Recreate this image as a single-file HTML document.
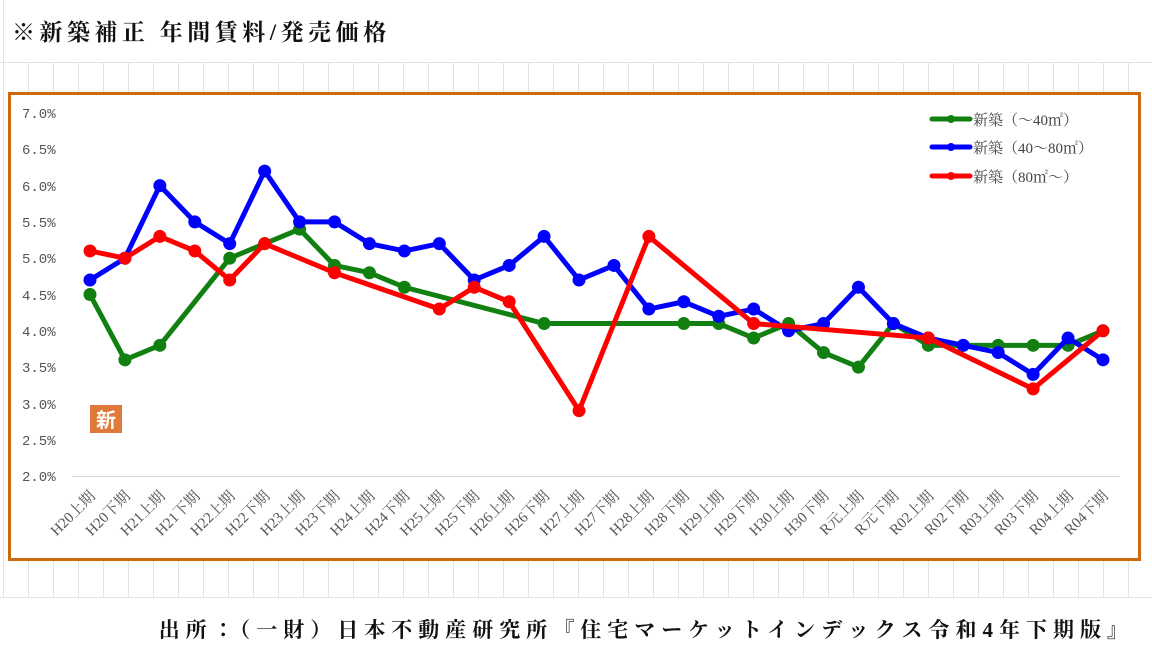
<!DOCTYPE html>
<html><head><meta charset="utf-8"><style>
body{margin:0;width:1152px;height:648px;overflow:hidden;background:#fff;font-family:"Liberation Serif","Noto Serif CJK SC",serif;}
</style></head><body>
<svg width="1152" height="648" xmlns="http://www.w3.org/2000/svg" style="position:absolute;left:0;top:0">
<defs>
<pattern id="g" x="3" y="0" width="25" height="648" patternUnits="userSpaceOnUse"><line x1="0.5" y1="0" x2="0.5" y2="648" stroke="#e2e2e2"/></pattern>
</defs>
<rect x="0" y="62" width="1152" height="586" fill="url(#g)"/>
<rect x="0" y="0" width="1152" height="62" fill="#fff"/>
<line x1="0" y1="62.5" x2="1152" y2="62.5" stroke="#e2e2e2"/>
<line x1="3.5" y1="0" x2="3.5" y2="62" stroke="#e2e2e2"/>
<line x1="0" y1="597.5" x2="1152" y2="597.5" stroke="#e2e2e2"/>
<rect x="0" y="598" width="1152" height="50" fill="#fff"/>
<text x="12" y="40" font-size="23" font-weight="bold" fill="#111" letter-spacing="4.5" font-family="Liberation Serif,Noto Serif CJK SC,serif">※新築補正 年間賃料/発売価格</text>
<rect x="9.5" y="93.5" width="1130" height="466" fill="#fff" stroke="#cc6a10" stroke-width="3"/>
<g font-family="Liberation Mono,monospace" font-size="14" fill="#555">
<text x="22" y="118">7.0%</text><text x="22" y="154">6.5%</text><text x="22" y="191">6.0%</text><text x="22" y="227">5.5%</text><text x="22" y="263">5.0%</text><text x="22" y="300">4.5%</text><text x="22" y="336">4.0%</text><text x="22" y="372">3.5%</text><text x="22" y="409">3.0%</text><text x="22" y="445">2.5%</text><text x="22" y="481">2.0%</text>
</g>
<line x1="72" y1="476.5" x2="1120" y2="476.5" stroke="#d9d9d9"/>
<rect x="90" y="405" width="32" height="28" fill="#e07a3a"/>
<text x="106" y="427" font-size="20" fill="#fff" text-anchor="middle" font-weight="bold" font-family="Noto Sans CJK JP,sans-serif">新</text>
<g font-size="15" fill="#555" font-family="Liberation Serif,Noto Serif CJK JP,serif" id="xl"></g>
<g id="series"></g>
<g font-size="15" fill="#444" font-family="Liberation Serif,Noto Serif CJK JP,serif">
<line x1="932" y1="119" x2="970" y2="119" stroke="#118011" stroke-width="5" stroke-linecap="round"/><circle cx="951" cy="119" r="4" fill="#118011"/>
<text x="973" y="125">新築（～40㎡）</text>
<line x1="932" y1="147" x2="970" y2="147" stroke="#0000ff" stroke-width="5" stroke-linecap="round"/><circle cx="951" cy="147" r="4" fill="#0000ff"/>
<text x="973" y="153">新築（40～80㎡）</text>
<line x1="932" y1="176" x2="970" y2="176" stroke="#ff0000" stroke-width="5" stroke-linecap="round"/><circle cx="951" cy="176" r="4" fill="#ff0000"/>
<text x="973" y="182">新築（80㎡～）</text>
</g>
<text x="1134" y="637" font-size="21" font-weight="bold" fill="#111" text-anchor="end" letter-spacing="6" font-family="Liberation Serif,Noto Serif CJK JP,serif">出所：（一財）日本不動産研究所『住宅マーケットインデックス令和4年下期版』</text>
</svg>
<script>
var labels=["H20上期","H20下期","H21上期","H21下期","H22上期","H22下期","H23上期","H23下期","H24上期","H24下期","H25上期","H25下期","H26上期","H26下期","H27上期","H27下期","H28上期","H28下期","H29上期","H29下期","H30上期","H30下期","R元上期","R元下期","R02上期","R02下期","R03上期","R03下期","R04上期","R04下期"];
function X(i){return 90+i*34.93}
function Y(v){return 476-(v-2)*72.6}
var ns="http://www.w3.org/2000/svg",xl=document.getElementById("xl"),s=document.getElementById("series");
labels.forEach(function(l,i){var t=document.createElementNS(ns,"text");t.setAttribute("text-anchor","end");t.setAttribute("transform","translate("+(X(i)+6)+",497) rotate(-45)");t.textContent=l;xl.appendChild(t);});
var G=[[0,4.5],[1,3.6],[2,3.8],[4,5.0],[5,5.2],[6,5.4],[7,4.9],[8,4.8],[9,4.6],[13,4.1],[17,4.1],[18,4.1],[19,3.9],[20,4.1],[21,3.7],[22,3.5],[23,4.1],[24,3.8],[25,3.8],[26,3.8],[27,3.8],[28,3.8],[29,4.0]];
var B=[4.7,5.0,6.0,5.5,5.2,6.2,5.5,5.5,5.2,5.1,5.2,4.7,4.9,5.3,4.7,4.9,4.3,4.4,4.2,4.3,4.0,4.1,4.6,4.1,3.9,3.8,3.7,3.4,3.9,3.6].map(function(v,i){return[i,v]});
var R=[[0,5.1],[1,5.0],[2,5.3],[3,5.1],[4,4.7],[5,5.2],[7,4.8],[10,4.3],[11,4.6],[12,4.4],[14,2.9],[16,5.3],[19,4.1],[24,3.9],[27,3.2],[29,4.0]];
function draw(d,c){var p=document.createElementNS(ns,"polyline");p.setAttribute("points",d.map(function(a){return X(a[0])+","+Y(a[1])}).join(" "));p.setAttribute("fill","none");p.setAttribute("stroke",c);p.setAttribute("stroke-width","5");p.setAttribute("stroke-linejoin","round");s.appendChild(p);
d.forEach(function(a){var e=document.createElementNS(ns,"circle");e.setAttribute("cx",X(a[0]));e.setAttribute("cy",Y(a[1]));e.setAttribute("r","6.5");e.setAttribute("fill",c);s.appendChild(e);});}
draw(G,"#118011");draw(B,"#0000ff");draw(R,"#ff0000");
</script>
</body></html>
